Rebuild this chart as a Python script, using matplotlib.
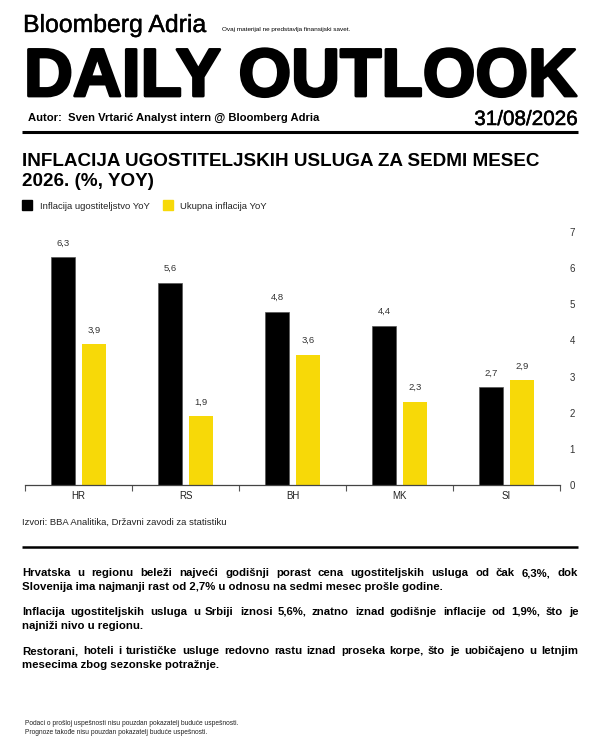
import matplotlib
matplotlib.use('Agg')
import matplotlib.pyplot as plt
import matplotlib.patheffects as pe
from matplotlib import font_manager
from matplotlib.patches import Rectangle
import numpy as np

countries = ['HR', 'RS', 'BH', 'MK', 'SI']
hospitality = [6.3, 5.6, 4.8, 4.4, 2.7]
overall = [3.9, 1.9, 3.6, 2.3, 2.9]
series_names = ['Inflacija ugostiteljstvo YoY', 'Ukupna inflacija YoY']
y_ticks = [0, 1, 2, 3, 4, 5, 6, 7]

brand = 'Bloomberg Adria'
disclaimer = 'Ovaj materijal ne predstavlja finansijski savet.'
masthead = 'DAILY OUTLOOK'
author = 'Autor:  Sven Vrtarić Analyst intern @ Bloomberg Adria'
date = '31/08/2026'
title = ['INFLACIJA UGOSTITELJSKIH USLUGA ZA SEDMI MESEC', '2026. (%, YOY)']
source = 'Izvori: BBA Analitika, Državni zavodi za statistiku'
paragraphs = [
    ['Hrvatska u regionu beleži najveći godišnji porast cena ugostiteljskih usluga od čak 6,3%, dok',
     'Slovenija ima najmanji rast od 2,7% u odnosu na sedmi mesec prošle godine.'],
    ['Inflacija ugostiteljskih usluga u Srbiji iznosi 5,6%, znatno iznad godišnje inflacije od 1,9%, što je',
     'najniži nivo u regionu.'],
    ['Restorani, hoteli i turističke usluge redovno rastu iznad proseka korpe, što je uobičajeno u letnjim',
     'mesecima zbog sezonske potražnje.'],
]
footer = ['Podaci o prošloj uspešnosti nisu pouzdan pokazatelj buduće uspešnosti.',
          'Prognoze takođe nisu pouzdan pokazatelj buduće uspešnosti.']

YELLOW = '#F7D908'


def have(name):
    try:
        font_manager.findfont(font_manager.FontProperties(family=name), fallback_to_default=False)
        return True
    except ValueError:
        return False


SANS = 'Liberation Sans' if have('Liberation Sans') else 'DejaVu Sans'
plt.rcParams['font.family'] = [SANS, 'DejaVu Sans']

fig = plt.figure(figsize=(6, 7.5), dpi=100)
fig.patch.set_facecolor('white')
r = fig.canvas.get_renderer()

# overlay in pixel coordinates (y grows downward)
bg = fig.add_axes([0, 0, 1, 1], zorder=-1)
bg.set_xlim(0, 600)
bg.set_ylim(750, 0)
bg.axis('off')


def put(x, y, s, size, **kw):
    kw.setdefault('va', 'baseline')
    kw.setdefault('color', 'black')
    return bg.text(x, y, s, fontsize=size, **kw)


def fit(x, y, s, width, **kw):
    t = put(x, y, s, 10, **kw)
    w = t.get_window_extent(r).width
    t.set_fontsize(10 * width / w)
    return t


def width_of(s, size, **kw):
    t = put(0, 0, s, size, **kw)
    w = t.get_window_extent(r).width
    t.remove()
    return w


def justify(line, y, size, x0=22, x1=578, **kw):
    words = line.split()
    ts = [put(0, y, w, size, **kw) for w in words]
    ws = [t.get_window_extent(r).width for t in ts]
    gap = (x1 - x0 - sum(ws)) / (len(words) - 1)
    x = x0
    for t, w in zip(ts, ws):
        t.set_x(round(x))
        x += w + gap


def heavier(lw):
    return [pe.withStroke(linewidth=lw, foreground='black')]


# header
fit(23, 32, brand, 184, path_effects=heavier(0.3))
put(222, 31, disclaimer, 4.6)
fit(24, 96, masthead, 552, fontweight='bold', path_effects=heavier(2.0))
fit(28, 121, author, 290, fontweight='bold')
fit(577, 125, date, 104, ha='right', path_effects=heavier(0.35))
bg.plot([22, 578], [132, 132], color='black', lw=2.2, solid_capstyle='butt')

# chart title and legend
t1 = fit(22, 166, title[0], 518, fontweight='bold')
put(22, 186, title[1], t1.get_fontsize(), fontweight='bold')

bg.add_patch(Rectangle((22, 200), 10, 10, color='black'))
put(40, 209, series_names[0], 6.8, color='#222')
bg.add_patch(Rectangle((163, 200), 10, 10, color=YELLOW))
put(180, 209, series_names[1], 6.8, color='#222')

# bar chart
ax = fig.add_axes([25 / 600, 1 - 485 / 750, 535 / 600, 253 / 750])
x = np.arange(len(countries))
w = 0.225
b1 = ax.bar(x - 0.145, hospitality, w, color='black', edgecolor='#555555', lw=0.5)
b2 = ax.bar(x + 0.145, overall, w, color=YELLOW)
for bars, vals in ((b1, hospitality), (b2, overall)):
    for b, v in zip(bars, vals):
        ax.annotate(f'{v:.1f}'.replace('.', ','), (b.get_x() + b.get_width() / 2, v),
                    xytext=(0, 7), textcoords='offset points', ha='center', va='bottom',
                    fontsize=6.8, color='#333333')

ax.set_xlim(-0.5, len(countries) - 0.5)
ax.set_ylim(0, 7)
ax.set_xticks(np.arange(-0.5, len(countries), 1))
ax.set_xticklabels([])
ax.set_xticks(x, minor=True)
ax.set_xticklabels(countries, minor=True)
ax.tick_params(axis='x', which='major', length=4, width=0.8, color='#555555')
ax.tick_params(axis='x', which='minor', length=0, pad=4, labelsize=7, labelcolor='#222')
ax.yaxis.tick_right()
ax.set_yticks(y_ticks)
ax.tick_params(axis='y', length=0, pad=7, labelsize=7, labelcolor='#333')
for s in ('top', 'left', 'right'):
    ax.spines[s].set_visible(False)
ax.spines['bottom'].set_color('#444444')
ax.spines['bottom'].set_linewidth(0.9)
ax.patch.set_alpha(0)

put(22, 525, source, 6.8, color='#222')
bg.plot([22, 578], [547, 547], color='black', lw=1.8, solid_capstyle='butt')

# commentary, justified like the original
bsize = 10 * 419 / width_of(paragraphs[0][1], 10, fontweight='bold')
y0 = 576
for p in paragraphs:
    for i, line in enumerate(p):
        if i < len(p) - 1:
            justify(line, y0, bsize, fontweight='bold')
        else:
            put(22, y0, line, bsize, fontweight='bold')
        y0 += 14
    y0 += 11

put(25, 725, footer[0], 4.8, color='#222')
put(25, 734, footer[1], 4.8, color='#222')

fig.savefig('out.png', dpi=100, facecolor='white')
